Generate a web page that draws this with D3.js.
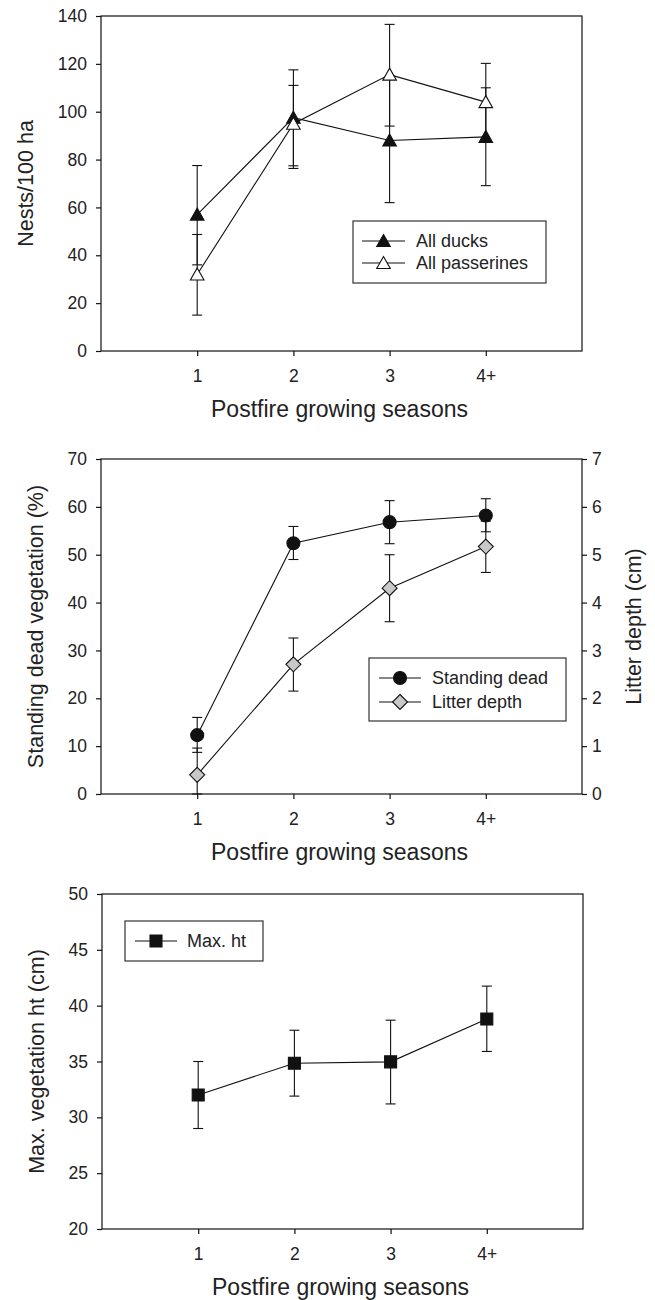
<!DOCTYPE html>
<html>
<head>
<meta charset="utf-8">
<script src="https://cdn.jsdelivr.net/npm/d3@7"></script>
<style>
body { margin: 0; background: #fff; }
text { font-family: "Liberation Sans", Arial, sans-serif; fill: #222; }
</style>
</head>
<body>
<div id="chart"></div>
<script>
var seasons = ['1', '2', '3', '4+'];

// panel 1: nest densities
var ducksMean = [57, 97.5, 88, 89.5];
var ducksLo = [36, 77.4, 62, 69.1];
var ducksHi = [77.5, 117.5, 114, 110];
var passMean = [32, 95, 115.5, 104];
var passLo = [15, 76.3, 94, 87.6];
var passHi = [48.7, 111, 136.5, 120.2];

// panel 2: standing dead (%) and litter depth (cm)
var deadMean = [12.3, 52.4, 56.8, 58.2];
var deadLo = [8.7, 49, 52.3, 54.8];
var deadHi = [16, 55.9, 61.3, 61.7];
var litterMean = [0.4, 2.71, 4.3, 5.17];
var litterLo = [0, 2.15, 3.6, 4.63];
var litterHi = [0.96, 3.26, 5.0, 5.7];

// panel 3: max vegetation height (cm)
var maxMean = [32, 34.85, 34.97, 38.8];
var maxLo = [29, 31.9, 31.2, 35.9];
var maxHi = [35, 37.8, 38.7, 41.75];

var ink = '#111';

var svg = d3.select('#chart').append('svg')
  .attr('width', 655)
  .attr('height', 1300);

function marker(g, kind, fill) {
  if (kind == 'circle') {
    return g.append('circle').attr('r', 6.5);
  }
  var p;
  if (kind == 'triangle') p = 'M0,-6.5L6.8,5.5L-6.8,5.5Z';
  if (kind == 'diamond') p = 'M0,-7.5L7.5,0L0,7.5L-7.5,0Z';
  if (kind == 'square') p = 'M-6,-6H6V6H-6Z';
  return g.append('path').attr('d', p);
}

function drawPanel(cfg) {
  var x = d3.scaleLinear().domain([0, 5]).range([cfg.left, cfg.right]);
  var y = d3.scaleLinear().domain(cfg.yDomain).range([cfg.bottom, cfg.top]);
  var g = svg.append('g');

  // frame
  g.append('rect')
    .attr('x', cfg.left).attr('y', cfg.top)
    .attr('width', cfg.right - cfg.left).attr('height', cfg.bottom - cfg.top)
    .attr('fill', 'none').attr('stroke', ink).attr('stroke-width', 1.2);

  var yAxis = g.append('g')
    .attr('transform', 'translate(' + cfg.left + ',0)')
    .call(d3.axisLeft(y).tickValues(cfg.yTicks).tickSize(5).tickSizeOuter(0).tickPadding(9));

  var xAxis = g.append('g')
    .attr('transform', 'translate(0,' + cfg.bottom + ')')
    .call(d3.axisBottom(x).tickValues([1, 2, 3, 4]).tickFormat(function(d) { return seasons[d - 1]; })
      .tickSize(5).tickSizeOuter(0).tickPadding(14));

  var axes = [yAxis, xAxis];

  var yRight = null;
  if (cfg.rightDomain) {
    yRight = d3.scaleLinear().domain(cfg.rightDomain).range([cfg.bottom, cfg.top]);
    var ra = g.append('g')
      .attr('transform', 'translate(' + cfg.right + ',0)')
      .call(d3.axisRight(yRight).ticks(7).tickSize(5).tickSizeOuter(0).tickPadding(5));
    axes.push(ra);
    g.append('text')
      .attr('transform', 'translate(641,' + ((cfg.top + cfg.bottom) / 2) + ') rotate(-90)')
      .attr('text-anchor', 'middle')
      .style('font-size', '21.5px')
      .text(cfg.rightLabel);
  }

  axes.forEach(function(a) {
    a.select('.domain').remove();
    a.selectAll('line').attr('stroke', ink).attr('stroke-width', 1.2);
    a.selectAll('text').style('font-size', '17.5px').attr('fill', '#222');
  });

  g.append('text')
    .attr('x', (cfg.left + cfg.right) / 2 - 2)
    .attr('y', cfg.bottom + 66)
    .attr('text-anchor', 'middle')
    .style('font-size', '23px')
    .text('Postfire growing seasons');

  g.append('text')
    .attr('transform', 'translate(' + cfg.yLabelX + ',' + ((cfg.top + cfg.bottom) / 2) + ') rotate(-90)')
    .attr('text-anchor', 'middle')
    .style('font-size', '21.5px')
    .text(cfg.yLabel);

  cfg.series.forEach(function(s) {
    var sy = s.right ? yRight : y;
    var pts = s.mean.map(function(m, i) { return { x: i + 1, m: m, lo: s.lo[i], hi: s.hi[i] }; });

    var eb = g.append('g').selectAll('g').data(pts).enter().append('g');
    eb.append('line')
      .attr('x1', function(d) { return x(d.x); }).attr('x2', function(d) { return x(d.x); })
      .attr('y1', function(d) { return sy(d.lo); }).attr('y2', function(d) { return sy(d.hi); });
    eb.append('line')
      .attr('x1', function(d) { return x(d.x) - 5; }).attr('x2', function(d) { return x(d.x) + 5; })
      .attr('y1', function(d) { return sy(d.lo); }).attr('y2', function(d) { return sy(d.lo); });
    eb.append('line')
      .attr('x1', function(d) { return x(d.x) - 5; }).attr('x2', function(d) { return x(d.x) + 5; })
      .attr('y1', function(d) { return sy(d.hi); }).attr('y2', function(d) { return sy(d.hi); });
    eb.selectAll('line').attr('stroke', ink).attr('stroke-width', 1.1);

    g.append('path')
      .datum(pts)
      .attr('fill', 'none').attr('stroke', ink).attr('stroke-width', 1.1)
      .attr('d', d3.line().x(function(d) { return x(d.x); }).y(function(d) { return sy(d.m); }));

    pts.forEach(function(d) {
      var mg = g.append('g').attr('transform', 'translate(' + x(d.x) + ',' + sy(d.m) + ')');
      marker(mg, s.kind).attr('fill', s.fill).attr('stroke', ink).attr('stroke-width', 1.1);
    });
  });

  // legend
  var L = cfg.legend;
  g.append('rect')
    .attr('x', L.x0).attr('y', L.y0)
    .attr('width', L.x1 - L.x0).attr('height', L.y1 - L.y0)
    .attr('fill', '#fff').attr('stroke', '#333').attr('stroke-width', 1.2);
  cfg.series.forEach(function(s, i) {
    var ry = L.rows[i];
    g.append('line')
      .attr('x1', L.lineX0).attr('x2', L.lineX1).attr('y1', ry).attr('y2', ry)
      .attr('stroke', ink).attr('stroke-width', 1.1);
    var mg = g.append('g').attr('transform', 'translate(' + (L.lineX0 + L.lineX1) / 2 + ',' + ry + ')');
    marker(mg, s.kind).attr('fill', s.fill).attr('stroke', ink).attr('stroke-width', 1.1);
    g.append('text')
      .attr('x', L.textX).attr('y', ry).attr('dy', '0.36em')
      .style('font-size', '18px')
      .text(s.name);
  });
}

drawPanel({
  top: 16, bottom: 351, left: 101, right: 582,
  yDomain: [0, 140], yTicks: d3.range(0, 141, 20),
  yLabel: 'Nests/100 ha', yLabelX: 33,
  series: [
    { name: 'All ducks', mean: ducksMean, lo: ducksLo, hi: ducksHi, kind: 'triangle', fill: '#111' },
    { name: 'All passerines', mean: passMean, lo: passLo, hi: passHi, kind: 'triangle', fill: '#fff' }
  ],
  legend: { x0: 353, x1: 546, y0: 221, y1: 283, rows: [241, 263], lineX0: 362, lineX1: 405, textX: 416 }
});

drawPanel({
  top: 459, bottom: 794, left: 101, right: 582,
  yDomain: [0, 70], yTicks: d3.range(0, 71, 10),
  yLabel: 'Standing dead vegetation (%)', yLabelX: 43,
  rightDomain: [0, 7], rightLabel: 'Litter depth (cm)',
  series: [
    { name: 'Standing dead', mean: deadMean, lo: deadLo, hi: deadHi, kind: 'circle', fill: '#111' },
    { name: 'Litter depth', mean: litterMean, lo: litterLo, hi: litterHi, kind: 'diamond', fill: '#c8c8c8', right: true }
  ],
  legend: { x0: 369, x1: 566, y0: 658, y1: 721, rows: [678, 702], lineX0: 379, lineX1: 421, textX: 432 }
});

drawPanel({
  top: 894, bottom: 1229, left: 102, right: 583,
  yDomain: [20, 50], yTicks: d3.range(20, 51, 5),
  yLabel: 'Max. vegetation ht (cm)', yLabelX: 44,
  series: [
    { name: 'Max. ht', mean: maxMean, lo: maxLo, hi: maxHi, kind: 'square', fill: '#111' }
  ],
  legend: { x0: 125, x1: 263, y0: 921, y1: 961, rows: [941], lineX0: 135, lineX1: 177, textX: 187 }
});
</script>
</body>
</html>
